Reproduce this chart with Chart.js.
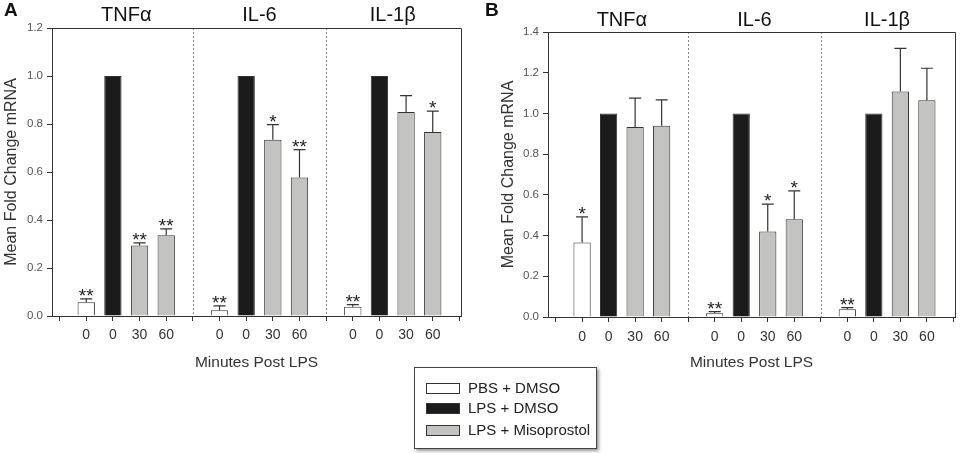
<!DOCTYPE html>
<html>
<head>
<meta charset="utf-8">
<script src="https://cdn.jsdelivr.net/npm/chart.js@4.4.1/dist/chart.umd.min.js"></script>
<style>
  body { margin: 0; background: #fff; font-family: "Liberation Sans", Arial, sans-serif; }
  #wrap { position: relative; width: 965px; height: 453px; overflow: hidden; }
  canvas { position: absolute; top: 0; }
  #cA { left: 0; }
  #cB { left: 480px; }
  #legend { position: absolute; left: 414px; top: 367px; width: 181px; height: 80px;
            border: 1px solid #444; box-shadow: 2px 2px 3px #999; background: #fff; }
  .item { position: absolute; left: 11px; height: 16px; line-height: 16px; font-size: 15px; color: #222; white-space: nowrap; }
  .sw { display: inline-block; width: 32px; height: 9px; border: 1px solid #333; vertical-align: middle; margin: -2px 8px 0 0; }
</style>
</head>
<body>
<div id="wrap">
  <canvas id="cA" width="480" height="375"></canvas>
  <canvas id="cB" width="485" height="375"></canvas>
  <div id="legend"></div>
</div>
<script>
// Categories
var groups = ['TNFα', 'IL-6', 'IL-1β'];
var tickLabels = ['', '0', '0', '30', '60', '', '0', '0', '30', '60', '', '0', '0', '30', '60', ''];
var seriesNames = ['PBS + DMSO', 'LPS + DMSO', 'LPS + Misoprostol'];
var seriesColors = ['#ffffff', '#1b1b1b', '#c3c3c1'];

// Panel A : one value per gene for PBS / LPS, 30 and 60 min pairs for misoprostol
var pbsA = [0.057, 0.024, 0.039];
var pbsErrA = [0.014, 0.018, 0.008];
var pbsSigA = ['**', '**', '**'];
var lpsA = [1, 1, 1];
var misoA = [0.294, 0.336, 0.734, 0.577, 0.850, 0.767];
var misoErrA = [0.011, 0.027, 0.063, 0.116, 0.068, 0.087];
var misoSigA = ['**', '**', '*', '**', '', '*'];

// Panel B
var pbsB = [0.366, 0.018, 0.038];
var pbsErrB = [0.126, 0.008, 0.008];
var pbsSigB = ['*', '**', '**'];
var lpsB = [1, 1, 1];
var misoB = [0.933, 0.940, 0.420, 0.480, 1.108, 1.065];
var misoErrB = [0.142, 0.127, 0.134, 0.140, 0.212, 0.157];
var misoSigB = ['', '', '*', '*', '', ''];

var FONT = '"Liberation Sans", Arial, sans-serif';

// Slot of each bar on the x axis: [gap, PBS, LPS, 30, 60] per gene
function slot(g, k) { return g * 5 + 1 + k; }

function makeData(pbs, pbsErr, pbsSig, lps, miso, misoErr, misoSig) {
  var common = { borderColor: '#333', borderWidth: 1, grouped: false, barPercentage: 0.65, categoryPercentage: 1 };
  return [
    Object.assign({ label: seriesNames[0], backgroundColor: seriesColors[0],
      data: pbs.map(function(v, g) { return { x: slot(g, 0), y: v }; }),
      err: pbsErr, sig: pbsSig }, common),
    Object.assign({ label: seriesNames[1], backgroundColor: seriesColors[1],
      data: lps.map(function(v, g) { return { x: slot(g, 1), y: v }; }),
      err: [], sig: [] }, common),
    Object.assign({ label: seriesNames[2], backgroundColor: seriesColors[2],
      data: miso.map(function(v, i) { return { x: slot(Math.floor(i / 2), 2 + i % 2), y: v }; }),
      err: misoErr, sig: misoSig }, common)
  ];
}

// Error bars, stars, dividers, frame, gene titles, panel letter
var decor = {
  id: 'decor',
  beforeDatasetsDraw: function(chart) {
    var ctx = chart.ctx, a = chart.chartArea, x = chart.scales.x;
    ctx.save();
    ctx.strokeStyle = '#8a8a8a';
    ctx.lineWidth = 1;
    ctx.setLineDash([2, 2]);
    [5, 10].forEach(function(v) {
      var px = Math.round(x.getPixelForValue(v)) + 0.5;
      ctx.beginPath(); ctx.moveTo(px, a.top); ctx.lineTo(px, a.bottom); ctx.stroke();
    });
    ctx.restore();
  },
  afterDatasetsDraw: function(chart, args, opts) {
    var ctx = chart.ctx, a = chart.chartArea, y = chart.scales.y, x = chart.scales.x;
    ctx.save();
    chart.data.datasets.forEach(function(ds, di) {
      var meta = chart.getDatasetMeta(di);
      meta.data.forEach(function(bar, i) {
        var v = ds.data[i].y;
        var e = ds.err[i] || 0;
        var top = y.getPixelForValue(v + e);
        if (e > 0) {
          ctx.strokeStyle = '#333'; ctx.lineWidth = 1.2;
          ctx.beginPath();
          ctx.moveTo(bar.x, bar.y); ctx.lineTo(bar.x, top);
          ctx.moveTo(bar.x - 6, top); ctx.lineTo(bar.x + 6, top);
          ctx.stroke();
        }
        if (ds.sig[i]) {
          ctx.fillStyle = '#222';
          ctx.font = '19px ' + FONT;
          ctx.textAlign = 'center'; ctx.textBaseline = 'alphabetic';
          ctx.fillText(ds.sig[i], bar.x, top + 3);
        }
      });
    });
    // frame top and right
    ctx.strokeStyle = '#333'; ctx.lineWidth = 1;
    ctx.beginPath();
    ctx.moveTo(a.left, a.top + 0.5); ctx.lineTo(a.right + 0.5, a.top + 0.5); ctx.lineTo(a.right + 0.5, a.bottom);
    ctx.stroke();
    // gene titles
    ctx.fillStyle = '#111';
    ctx.font = '20px ' + FONT;
    ctx.textAlign = 'center'; ctx.textBaseline = 'middle';
    groups.forEach(function(g, gi) {
      ctx.fillText(g, x.getPixelForValue(gi * 5 + 2.5), a.top - opts.titleGap);
    });
    // panel letter
    ctx.font = 'bold 19px ' + FONT;
    ctx.textAlign = 'left';
    ctx.fillText(opts.letter, opts.letterX, 11);
    ctx.restore();
  }
};

function makeOptions(p) {
  return {
    responsive: false,
    animation: false,
    layout: { padding: { left: p.padLeft, right: p.padRight, top: p.padTop, bottom: 0 } },
    plugins: {
      legend: { display: false },
      tooltip: { enabled: false },
      decor: { letter: p.letter, letterX: p.letterX, titleGap: p.titleGap }
    },
    scales: {
      x: {
        type: 'linear', min: -0.285, max: 15.06, offset: false,
        afterBuildTicks: function(s) { s.ticks = tickLabels.map(function(_, i) { return { value: i }; }); },
        afterFit: function(s) { s.height = p.xHeight; },
        ticks: {
          autoSkip: false, maxRotation: 0, padding: p.xTickPad, color: '#333',
          font: { family: FONT, size: 14 },
          callback: function(v, i) { return tickLabels[i]; }
        },
        grid: { drawOnChartArea: false, drawTicks: true, tickLength: 5, color: '#333', offset: false },
        border: { display: true, color: '#333', width: 1 },
        title: { display: true, text: 'Minutes Post LPS', color: '#333',
          font: { family: FONT, size: 15.5 }, padding: { top: 0, bottom: 3 } }
      },
      y: {
        min: 0, max: p.yMax,
        afterFit: function(s) { s.width = p.yWidth; },
        ticks: {
          stepSize: 0.2, padding: 4, color: '#555',
          font: { family: FONT, size: 11.5 },
          callback: function(v) { return v.toFixed(1); }
        },
        grid: { drawOnChartArea: false, drawTicks: true, tickLength: 5, color: '#333' },
        border: { display: true, color: '#333', width: 1 },
        title: { display: true, text: 'Mean Fold Change mRNA', color: '#333',
          font: { family: FONT, size: 16 }, padding: { top: 1.5, bottom: 0 } }
      }
    }
  };
}

new Chart(document.getElementById('cA'), {
  type: 'bar',
  data: { datasets: makeData(pbsA, pbsErrA, pbsSigA, lpsA, misoA, misoErrA, misoSigA) },
  options: makeOptions({ yMax: 1.2, padLeft: 0, padRight: 19, padTop: 28, yWidth: 52, xHeight: 59,
    xTickPad: 6, letter: 'A', letterX: 4, titleGap: 13 }),
  plugins: [decor]
});

new Chart(document.getElementById('cB'), {
  type: 'bar',
  data: { datasets: makeData(pbsB, pbsErrB, pbsSigB, lpsB, misoB, misoErrB, misoSigB) },
  options: makeOptions({ yMax: 1.4, padLeft: 17, padRight: 10, padTop: 32, yWidth: 51, xHeight: 58,
    xTickPad: 7, letter: 'B', letterX: 5, titleGap: 12 }),
  plugins: [decor]
});

// Legend box
var legend = document.getElementById('legend');
var rowTops = [12, 32, 54];
seriesNames.forEach(function(name, i) {
  var d = document.createElement('div');
  d.className = 'item';
  d.style.top = rowTops[i] + 'px';
  d.innerHTML = '<span class="sw" style="background:' + seriesColors[i] + '"></span>' + name;
  legend.appendChild(d);
});
</script>
</body>
</html>
